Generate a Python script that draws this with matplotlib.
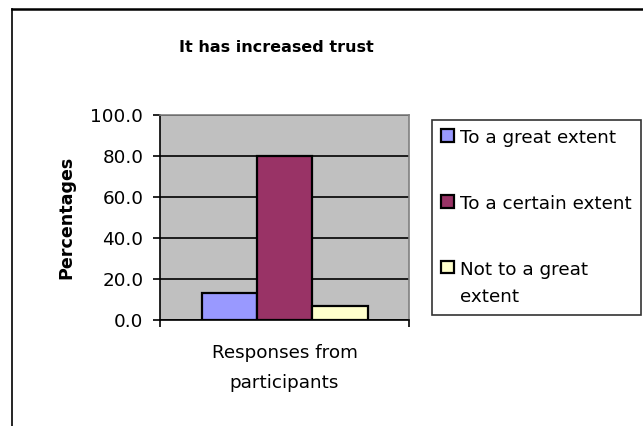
import matplotlib
matplotlib.use("Agg")
import matplotlib.pyplot as plt
from matplotlib.lines import Line2D

plt.rcParams["font.family"] = "DejaVu Sans"

title = "It has increased trust"
category = "Responses from\nparticipants"
series = ["To a great extent", "To a certain extent", "Not to a great\nextent"]
values = [13.3, 80.0, 6.7]
colors = ["#9999FF", "#993366", "#FFFFCC"]
yticks = [0, 20, 40, 60, 80, 100]

W, H = 643, 426
FS = 13.2
fig = plt.figure(figsize=(W / 100, H / 100), dpi=100)
ax = fig.add_axes([160 / W, 1 - 320 / H, 249 / W, 205 / H])
ax.set_facecolor("#C0C0C0")

# three bars side by side, Excel gap width 50%
bw = 2 / 9
offsets = [-bw, 0, bw]
bars = []
for off, v, c, lab in zip(offsets, values, colors, series):
    b = ax.bar(off, v, width=bw, color=c, edgecolor="black", linewidth=1.6,
               label=lab, zorder=3)
    bars.append(b)

ax.set_xlim(-0.5, 0.5)
ax.set_ylim(0, 100)
ax.set_yticks(yticks)
ax.set_yticklabels([f"{t:.1f}" for t in yticks], fontsize=FS)
ax.yaxis.grid(True, color="black", linewidth=1.2, zorder=1)
ax.set_axisbelow(True)
ax.tick_params(axis="y", direction="out", length=5, width=1.2, pad=7)

ax.set_xticks([0])
ax.set_xticklabels([category], fontsize=FS, linespacing=1.85)
ax.set_xticks([-0.5, 0.5], minor=True)
ax.tick_params(axis="x", which="major", length=0, pad=17)
ax.tick_params(axis="x", which="minor", direction="out", length=5, width=1.2)

ax.set_ylabel("Percentages", fontsize=12.6, fontweight="bold", labelpad=11)

for s in ["left", "bottom"]:
    ax.spines[s].set_color("black")
    ax.spines[s].set_linewidth(1.2)
for s in ["top", "right"]:
    ax.spines[s].set_color("#808080")
    ax.spines[s].set_linewidth(1.2)

fig.text(276 / W, 1 - 47 / H, title, fontsize=11.5, fontweight="bold",
         ha="center", va="center")

leg = fig.legend(handles=[b[0] for b in bars], labels=series,
                 loc="upper left", bbox_to_anchor=(432 / W, 1 - 120 / H),
                 fontsize=FS, frameon=True, fancybox=False, edgecolor="black",
                 handlelength=0.7, handleheight=0.7, handletextpad=0.35,
                 labelspacing=2.6, borderpad=0.5, borderaxespad=0)
leg.get_frame().set_linewidth(1.2)
leg.get_texts()[2].set_linespacing(1.7)
# keep the swatch of the wrapped entry beside its first line
for col in leg._legend_handle_box.get_children():
    for row in col.get_children():
        row.align = "top"

# outer chart-area border (cropped at right and bottom)
fig.add_artist(Line2D([12 / W, 1], [1 - 9 / H, 1 - 9 / H], color="black", linewidth=1.8))
fig.add_artist(Line2D([12 / W, 12 / W], [0, 1 - 9 / H], color="black", linewidth=1.2))

fig.savefig("out.png", dpi=100)
